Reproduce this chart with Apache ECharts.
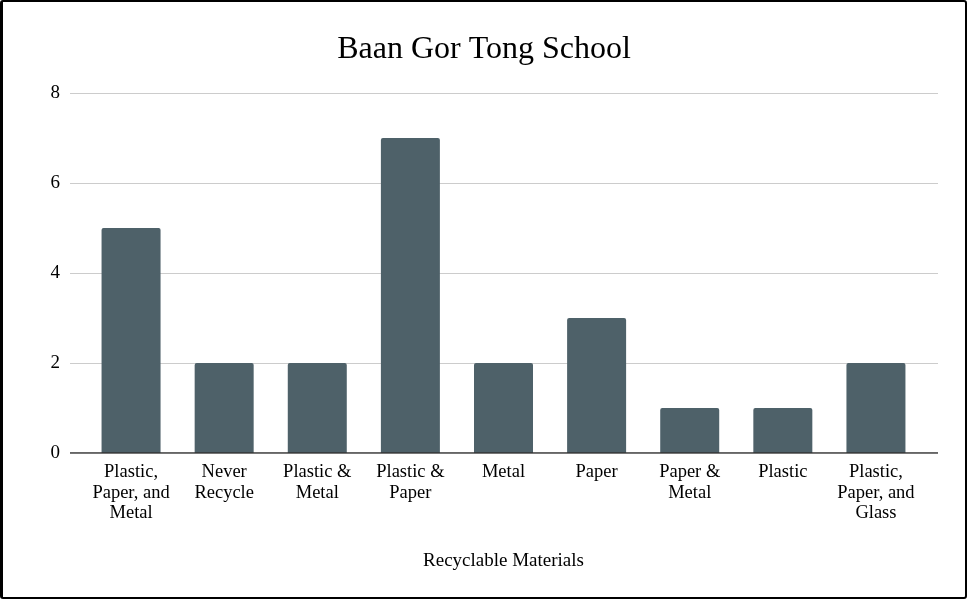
<!DOCTYPE html>
<html><head><meta charset="utf-8">
<script src="https://cdn.jsdelivr.net/npm/echarts@6/dist/echarts.min.js"></script>
<style>
html,body{margin:0;padding:0;background:#fff;}
#frame{width:967px;height:599px;box-sizing:border-box;border:2px solid #000;border-left-width:3px;border-radius:3px;overflow:hidden;}
#c{width:962px;height:595px;}
</style></head>
<body><div id="frame"><div id="c"></div></div>
<script>
const categories = ["Plastic,\nPaper, and\nMetal","Never\nRecycle","Plastic &\nMetal","Plastic &\nPaper","Metal","Paper","Paper &\nMetal","Plastic","Plastic,\nPaper, and\nGlass"];
const values = [5,2,2,7,2,3,1,1,2];
const yTicks = [0,2,4,6,8];
const title = "Baan Gor Tong School";
const xName = "Recyclable Materials";

const font = "'Liberation Serif', 'Times New Roman', serif";
const chart = echarts.init(document.getElementById('c'), null, {renderer:'canvas'});
chart.setOption({
  animation:false,
  title:{text:title,left:'center',top:27,textStyle:{fontFamily:font,fontSize:32,fontWeight:'normal',color:'#000'}},
  grid:[
    {left:67,right:27,top:91,bottom:144},
    {left:81.5,right:42.5,top:91,bottom:144}
  ],
  xAxis:[
    {gridIndex:0,type:'value',min:0,max:1,show:false},
    {gridIndex:1,type:'category',data:categories,
     axisLine:{show:false},axisTick:{show:false},
     axisLabel:{interval:0,fontFamily:font,fontSize:18.5,color:'#000',lineHeight:20.5,margin:9},
     name:xName,nameLocation:'middle',nameGap:99,
     nameTextStyle:{fontFamily:font,fontSize:19,color:'#000'}}
  ],
  yAxis:[
    {gridIndex:0,type:'value',min:yTicks[0],max:yTicks[yTicks.length-1],interval:2,
     axisLine:{show:false},axisTick:{show:false},
     axisLabel:{fontFamily:font,fontSize:19,color:'#000',margin:10},
     splitLine:{lineStyle:{color:'#cccccc',width:1}}},
    {gridIndex:1,type:'value',min:0,max:8,interval:2,show:false,splitLine:{show:false}}
  ],
  series:[
    {type:'line',xAxisIndex:0,yAxisIndex:0,data:[[0,0],[1,0]],symbol:'none',silent:true,
     lineStyle:{color:'#333',width:1.5},z:5},
    {type:'bar',xAxisIndex:1,yAxisIndex:1,data:values,barWidth:59,
     itemStyle:{color:'#4e6169',borderRadius:[2,2,0,0]},z:3}
  ]
});
</script></body></html>
